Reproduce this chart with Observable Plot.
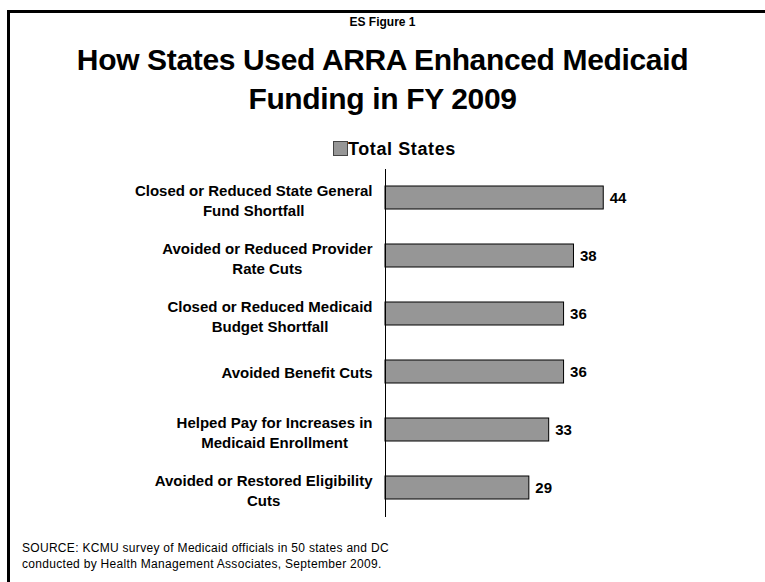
<!DOCTYPE html>
<html>
<head>
<meta charset="utf-8">
<script src="https://cdn.jsdelivr.net/npm/d3@7"></script>
<script src="https://cdn.jsdelivr.net/npm/@observablehq/plot@0.6"></script>
<style>
  html, body { margin: 0; padding: 0; background: #fff; }
  #page { position: relative; width: 765px; height: 582px; overflow: hidden; font-family: "Liberation Sans", Arial, sans-serif; color: #000; }
  #frame { position: absolute; left: 7px; top: 10px; width: 800px; height: 600px; border-top: 3px solid #000; border-left: 3px solid #000; box-sizing: border-box; }
  #fig { position: absolute; top: 15px; left: 0; width: 765px; text-align: center; font-weight: bold; font-size: 12px; }
  #title { position: absolute; top: 40px; left: 0; width: 765px; text-align: center; font-weight: bold; font-size: 30px; line-height: 39px; letter-spacing: -0.35px; }
  #legend { position: absolute; top: 138px; left: 333px; font-weight: bold; font-size: 18px; line-height: 22px; white-space: nowrap; letter-spacing: 0.6px; }
  #legend .sw { display: inline-block; width: 13px; height: 13px; background: #969696; border: 1px solid #444; vertical-align: -1px; margin-right: 0px; }
  #chart { position: absolute; top: 165px; left: 0; }
  #source { position: absolute; top: 540px; left: 22px; font-size: 12px; line-height: 16px; letter-spacing: 0.3px; }
</style>
</head>
<body>
<div id="page">
  <div id="frame"></div>
  <div id="fig">ES Figure 1</div>
  <div id="title">How States Used ARRA Enhanced Medicaid<br>Funding in FY 2009</div>
  <div id="legend"><span class="sw"></span>Total States</div>
  <div id="chart"></div>
  <div id="source">SOURCE: KCMU survey of Medicaid officials in 50 states and DC<br>conducted by Health Management Associates, September 2009.</div>
</div>
<script>
const categories = [
  "Closed or Reduced State General\nFund Shortfall",
  "Avoided or Reduced Provider\nRate Cuts",
  "Closed or Reduced Medicaid\nBudget Shortfall",
  "Avoided Benefit Cuts",
  "Helped Pay for Increases in\nMedicaid Enrollment",
  "Avoided or Restored Eligibility\nCuts"
];
const values = [44, 38, 36, 36, 33, 29];
const seriesName = "Total States";

const data = categories.map((c, i) => ({category: c, value: values[i]}));

const chart = Plot.plot({
  width: 765,
  height: 360,
  marginTop: 4,
  marginBottom: 8,
  marginLeft: 385,
  marginRight: 132,
  style: {fontFamily: "'Liberation Sans', Arial, sans-serif", color: "#000", background: "transparent"},
  x: {domain: [0, 50], axis: null},
  y: {domain: categories, paddingInner: 0.6, paddingOuter: 0.3, label: null},
  marks: [
    Plot.barX(data, {x: "value", y: "category", fill: "#969696", stroke: "#000", strokeWidth: 1}),
    Plot.ruleX([0], {stroke: "#000", strokeWidth: 1}),
    Plot.axisY({tickSize: 0, tickPadding: 13, fontSize: 15, fontWeight: "bold", lineHeight: 1.33, label: null, lineWidth: 100}),
    Plot.text(data, {x: "value", y: "category", text: d => String(d.value), textAnchor: "start", dx: 6, fontSize: 15, fontWeight: "bold", fill: "#000"})
  ]
});
document.getElementById("chart").appendChild(chart);

// center the lines of each category label as a block, right-aligned to the axis
chart.querySelectorAll('g[aria-label="y-axis tick label"] text').forEach(t => {
  const spans = t.querySelectorAll("tspan");
  let w = 0;
  if (spans.length) spans.forEach(s => { w = Math.max(w, s.getComputedTextLength()); });
  else w = t.getComputedTextLength();
  t.setAttribute("text-anchor", "middle");
  const tr = t.getAttribute("transform") || "";
  t.setAttribute("transform", tr + ` translate(${-w / 2},${spans.length > 1 ? 2 : 0})`);
});
</script>
</body>
</html>
